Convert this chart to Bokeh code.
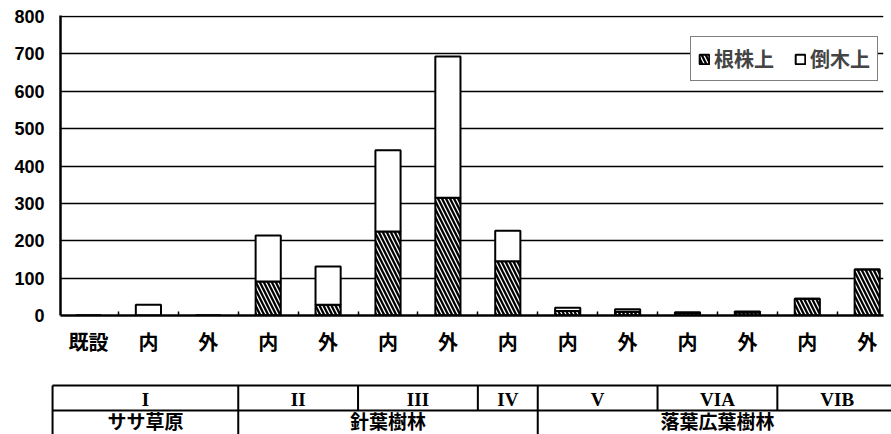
from bokeh.plotting import figure
from bokeh.models import Range1d, FixedTicker, Legend, LegendItem, ColumnDataSource
from bokeh.layouts import column
from bokeh.embed import file_html
from bokeh.resources import INLINE
from bokeh.core.properties import value

# ---------------- data ----------------
categories = ["既設", "内", "外", "内", "外", "内", "外", "内", "内", "外", "内", "外", "内", "外"]
stump = [0, 0, 0, 91, 29, 225, 315, 145, 12, 10, 7, 8, 45, 123]      # 根株上
fallen = [0, 29, 0, 123, 102, 217, 378, 82, 9, 7, 2, 3, 0, 0]        # 倒木上
y_ticks = [0, 100, 200, 300, 400, 500, 600, 700, 800]
series_names = ["根株上", "倒木上"]
zones = ["I", "II", "III", "IV", "V", "VIA", "VIB"]
zone_sizes = [3, 2, 2, 1, 2, 2, 2]          # categories per zone
forests = ["ササ草原", "針葉樹林", "落葉広葉樹林"]
forest_sizes = [1, 3, 3]                     # zones per forest type

# ---------------- layout constants ----------------
W = 891
PX = 59.9            # pixels per category
C0 = 88.0            # x pixel of first category centre
FONT_CJK = "Noto Sans CJK JP"

xs = list(range(len(categories)))
tops = [s + f for s, f in zip(stump, fallen)]
src = ColumnDataSource(dict(x=xs, stump=stump, top=tops, zero=[0] * len(xs)))

# ---------------- chart ----------------
left_b, right_b, top_b, bot_b = 60, 8, 15, 57
frame_h = 300
H1 = top_b + frame_h + bot_b
p = figure(width=W, height=H1, output_backend="svg", toolbar_location=None,
           min_border_left=left_b, min_border_right=right_b, min_border_top=top_b, min_border_bottom=bot_b,
           x_range=Range1d((left_b - C0) / PX, (W - right_b - C0) / PX),
           y_range=Range1d(0, 800 * frame_h / 299.0))
p.frame_align = False
p.outline_line_color = None
p.background_fill_color = "white"
p.border_fill_color = "white"

p.xgrid.visible = False
p.ygrid.ticker = FixedTicker(ticks=y_ticks)
p.ygrid.grid_line_color = "black"
p.ygrid.grid_line_width = 1.6

bw = 0.42
r_stump = p.vbar(x="x", bottom="zero", top="stump", width=bw, source=src,
                 fill_color="white", line_color="black", line_width=2,
                 hatch_pattern="\\", hatch_color="black", hatch_scale=8, hatch_weight=2.3)
r_fallen = p.vbar(x="x", bottom="stump", top="top", width=bw, source=src,
                  fill_color="white", line_color="black", line_width=2)

xa = p.xaxis[0]
xa.ticker = FixedTicker(ticks=xs, minor_ticks=[i + 0.5 for i in xs])
xa.major_label_overrides = {i: c for i, c in zip(xs, categories)}
xa.axis_line_width = 2.5
xa.major_tick_in = 0
xa.major_tick_out = 0
xa.minor_tick_in = 4
xa.minor_tick_out = 0
xa.minor_tick_line_width = 1.5
xa.major_label_standoff = 11
xa.major_label_text_font = FONT_CJK
xa.major_label_text_font_style = "bold"
xa.major_label_text_font_size = "20px"
xa.major_label_text_color = "black"

ya = p.yaxis[0]
ya.ticker = FixedTicker(ticks=y_ticks)
ya.axis_line_width = 2.5
ya.major_tick_in = 0
ya.major_tick_out = 0
ya.minor_tick_in = 0
ya.minor_tick_out = 0
ya.major_label_standoff = 16
ya.major_label_text_font = "Liberation Sans"
ya.major_label_text_font_style = "bold"
ya.major_label_text_font_size = "18px"
ya.major_label_text_color = "black"

legend = Legend(items=[LegendItem(label=series_names[0], renderers=[r_stump]),
                       LegendItem(label=series_names[1], renderers=[r_fallen])],
                orientation="horizontal", location=(630, 234), margin=0,
                padding=7, spacing=20, label_standoff=4, glyph_width=12, glyph_height=12,
                label_text_font=FONT_CJK, label_text_font_style="bold", label_text_font_size="20px",
                border_line_color="black", border_line_width=1.5,
                background_fill_color="white", background_fill_alpha=1.0)
p.add_layout(legend)

# ---------------- zone table ----------------
H2 = 434 - H1
t = figure(width=W, height=H2, output_backend="svg", toolbar_location=None,
           min_border=0, min_border_left=0, min_border_right=0, min_border_top=0, min_border_bottom=0,
           x_range=Range1d(-C0 / PX, (W - C0) / PX),
           y_range=Range1d(H1 + H2, H1), x_axis_location=None, y_axis_location=None)
t.frame_align = False
t.grid.visible = False
t.outline_line_color = None
t.background_fill_color = "white"
t.border_fill_color = "white"

tbl_left = -0.6
tbl_right = len(categories) - 0.5
row_top, row_mid, row_bot = 385, 410, 440

zone_edges = [tbl_left]
acc = 0
for s in zone_sizes:
    acc += s
    zone_edges.append(acc - 0.5)
zone_edges[-1] = tbl_right
forest_edges_idx = [0]
acc = 0
for s in forest_sizes:
    acc += s
    forest_edges_idx.append(acc)
forest_edges = [zone_edges[i] for i in forest_edges_idx]

t.segment(x0=[tbl_left, tbl_left], x1=[tbl_right, tbl_right], y0=[row_top, row_mid], y1=[row_top, row_mid],
          line_color="black", line_width=2)
inner_zone = [e for e in zone_edges[1:-1] if e not in forest_edges]
full = [e for e in forest_edges[:-1]]
t.segment(x0=inner_zone, x1=inner_zone, y0=[row_top] * len(inner_zone), y1=[row_mid] * len(inner_zone),
          line_color="black", line_width=2)
t.segment(x0=full, x1=full, y0=[row_top] * len(full), y1=[row_bot] * len(full),
          line_color="black", line_width=2)

zone_cx = [(a + b) / 2 for a, b in zip(zone_edges[:-1], zone_edges[1:])]
t.text(x=zone_cx, y=[(row_top + row_mid) / 2 + 1] * len(zones), text=zones,
       text_font=value("Liberation Serif"), text_font_style="bold", text_font_size="19px",
       text_align="center", text_baseline="middle", text_color="black")
forest_cx = [(a + b) / 2 for a, b in zip(forest_edges[:-1], forest_edges[1:])]
t.text(x=forest_cx, y=[420] * len(forests), text=forests,
       text_font=value(FONT_CJK), text_font_style="bold", text_font_size="19px",
       text_align="center", text_baseline="middle", text_color="black")

layout = column(p, t, spacing=0)
open("out.html", "w").write(file_html(layout, INLINE))
